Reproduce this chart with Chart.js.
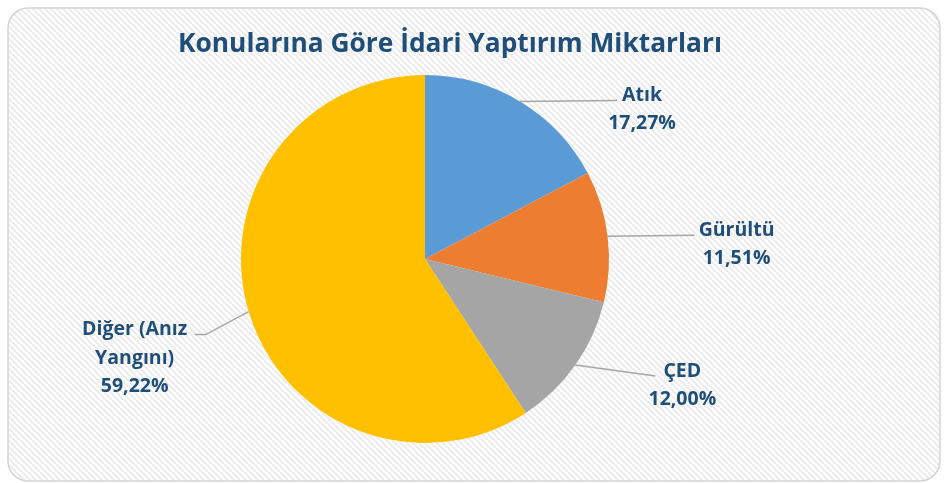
<!DOCTYPE html>
<html>
<head>
<meta charset="utf-8">
<script src="https://cdn.jsdelivr.net/npm/chart.js@4.4.0/dist/chart.umd.min.js"></script>
<style>
  html, body { margin: 0; padding: 0; background: #fff; }
  canvas { display: block; }
</style>
</head>
<body>
<canvas id="chart" width="946" height="483"></canvas>
<script>
const chartTitle = "Konularına Göre İdari Yaptırım Miktarları";
const categories = ["Atık", "Gürültü", "ÇED", "Diğer (Anız Yangını)"];
const categoryLines = [["Atık"], ["Gürültü"], ["ÇED"], ["Diğer (Anız", "Yangını)"]];
const shares = [17.27, 11.51, 12.00, 59.22];
const sliceColors = ["#5b9bd5", "#ed7d31", "#a5a5a5", "#ffc000"];

// leader lines and label placement, relative to the point where each line leaves the slice
const labelLayout = [
  { path: [[97, -1]], text: [122, -6], lineHeight: 28 },
  { path: [[87, -1]], text: [129, -6], lineHeight: 28 },
  { path: [[80, 11]], text: [107, 6], lineHeight: 28 },
  { path: [[-43, 23], [-54, 23]], text: [-114, 18], lineHeight: 28.5 }
];

const textColor = "#1f4e79";
const labelFont = "bold 19.5px 'Open Sans', Lato, sans-serif";
const titleFont = "bold 27px 'Open Sans', Lato, sans-serif";
const titleWidth = 544;

function fmtPercent(v) {
  return v.toFixed(2).replace(".", ",") + "%";
}

function hatchPattern(ctx) {
  const c = document.createElement("canvas");
  c.width = 6; c.height = 6;
  const p = c.getContext("2d");
  p.fillStyle = "#ffffff";
  p.fillRect(0, 0, 6, 6);
  p.strokeStyle = "#ececec";
  p.lineWidth = 2;
  p.beginPath();
  p.moveTo(-1, -1); p.lineTo(7, 7);
  p.moveTo(-4, 2); p.lineTo(4, 10);
  p.moveTo(2, -4); p.lineTo(10, 4);
  p.stroke();
  return ctx.createPattern(c, "repeat");
}

function roundRect(ctx, x, y, w, h, r) {
  ctx.beginPath();
  ctx.moveTo(x + r, y);
  ctx.arcTo(x + w, y, x + w, y + h, r);
  ctx.arcTo(x + w, y + h, x, y + h, r);
  ctx.arcTo(x, y + h, x, y, r);
  ctx.arcTo(x, y, x + w, y, r);
  ctx.closePath();
}

const frame = {
  id: "frame",
  beforeDraw(chart) {
    const ctx = chart.ctx;
    ctx.save();
    roundRect(ctx, 8, 8, chart.width - 14, chart.height - 10, 20);
    ctx.fillStyle = hatchPattern(ctx);
    ctx.fill();
    ctx.strokeStyle = "#d4d4d4";
    ctx.lineWidth = 1.5;
    ctx.stroke();

    // title is squeezed a little so the wide fallback font keeps the narrow look
    ctx.fillStyle = textColor;
    ctx.font = titleFont;
    ctx.textAlign = "center";
    ctx.textBaseline = "middle";
    const w = ctx.measureText(chartTitle).width;
    const sx = Math.min(1, titleWidth / w);
    ctx.translate(450, 44);
    ctx.scale(sx, 1);
    ctx.fillText(chartTitle, 0, 0);
    ctx.restore();
  }
};

const sliceLabels = {
  id: "sliceLabels",
  afterDatasetsDraw(chart) {
    const ctx = chart.ctx;
    const meta = chart.getDatasetMeta(0);
    ctx.save();
    meta.data.forEach((arc, i) => {
      const { x, y, startAngle, endAngle, outerRadius } = arc.getProps(
        ["x", "y", "startAngle", "endAngle", "outerRadius"], true);
      const mid = (startAngle + endAngle) / 2;
      const ex = x + Math.cos(mid) * outerRadius;
      const ey = y + Math.sin(mid) * outerRadius;
      const lay = labelLayout[i];

      ctx.strokeStyle = "#a6a6a6";
      ctx.lineWidth = 1.5;
      ctx.beginPath();
      ctx.moveTo(ex, ey);
      lay.path.forEach(([dx, dy]) => ctx.lineTo(ex + dx, ey + dy));
      ctx.stroke();

      const lines = categoryLines[i].concat([fmtPercent(shares[i])]);
      ctx.fillStyle = textColor;
      ctx.font = labelFont;
      ctx.textAlign = "center";
      ctx.textBaseline = "middle";
      lines.forEach((t, k) => {
        ctx.fillText(t, ex + lay.text[0], ey + lay.text[1] + k * lay.lineHeight);
      });
    });
    ctx.restore();
  }
};

new Chart(document.getElementById("chart"), {
  type: "pie",
  data: {
    labels: categories,
    datasets: [{
      data: shares,
      backgroundColor: sliceColors,
      borderWidth: 0
    }]
  },
  options: {
    responsive: false,
    animation: false,
    layout: { padding: { top: 75, bottom: 40, left: 241, right: 337 } },
    plugins: {
      legend: { display: false },
      title: { display: false },
      tooltip: { enabled: false }
    }
  },
  plugins: [frame, sliceLabels]
});
</script>
</body>
</html>
